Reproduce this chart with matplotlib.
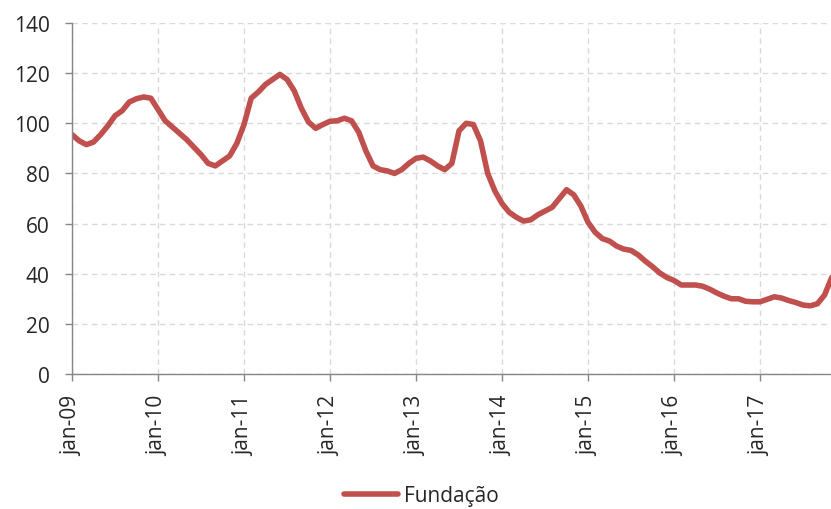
import matplotlib
matplotlib.use("Agg")
import matplotlib.pyplot as plt

# monthly index, jan-09 .. nov-17
fundacao = [
    95.5, 93.0, 91.5, 92.5, 95.5, 99.0, 103.0, 105.0, 108.5, 109.8, 110.5, 110.0,  # 2009
    105.5, 101.0, 98.5, 96.0, 93.5, 90.5, 87.5, 84.0, 83.0, 85.0, 87.0, 92.0,      # 2010
    99.5, 110.0, 112.5, 115.5, 117.5, 119.5, 117.5, 113.0, 106.0, 100.5, 98.0, 99.5,  # 2011
    100.8, 101.0, 102.0, 101.0, 96.5, 89.0, 83.0, 81.5, 81.0, 80.0, 81.5, 84.0,    # 2012
    86.0, 86.5, 85.0, 83.0, 81.5, 84.0, 97.0, 100.0, 99.5, 93.0, 80.0, 73.0,       # 2013
    68.0, 64.5, 62.5, 61.0, 61.5, 63.5, 65.0, 66.5, 70.0, 73.5, 71.5, 67.0,        # 2014
    60.5, 56.5, 54.0, 53.0, 51.0, 49.8, 49.3, 47.5, 45.0, 42.8, 40.3, 38.5,        # 2015
    37.3, 35.5, 35.5, 35.5, 35.0, 33.8, 32.3, 31.0, 30.0, 30.0, 29.0, 28.8,        # 2016
    28.8, 29.8, 30.8, 30.3, 29.3, 28.5, 27.5, 27.2, 28.0, 31.5, 38.5,              # 2017
]
tick_labels = ["jan-09", "jan-10", "jan-11", "jan-12", "jan-13",
               "jan-14", "jan-15", "jan-16", "jan-17"]
series_name = "Fundação"

plt.rcParams['font.family'] = ['Open Sans', 'DejaVu Sans']

fig = plt.figure(figsize=(8.31, 5.10), dpi=100)
ax = fig.add_axes([72 / 831, (510 - 375) / 510, 1 - 72 / 831, (375 - 24) / 510])

x = list(range(len(fundacao)))
ax.plot(x, fundacao, color='#C0504D', linewidth=4.0, solid_capstyle='round',
        label=series_name)

ax.set_xlim(0, 105.9)
ax.set_ylim(0, 140)
ax.set_yticks(range(0, 141, 20))
ax.set_xticks([12 * i for i in range(len(tick_labels))])
ax.set_xticklabels(tick_labels, rotation=90)

ax.grid(True, color='#D9D9D9', linestyle=(0, (4, 3)), linewidth=1)
ax.set_axisbelow(True)

for s in ['top', 'right']:
    ax.spines[s].set_visible(False)
for s in ['left', 'bottom']:
    ax.spines[s].set_color('#868686')
    ax.spines[s].set_linewidth(1)

ax.tick_params(axis='both', colors='#868686', length=5, width=1,
               labelcolor='#262626', labelsize=15)
ax.tick_params(axis='y', pad=11)
ax.tick_params(axis='x', pad=10)

fig.legend(loc='center', bbox_to_anchor=(0.507, 0.026), frameon=False,
           fontsize=15, handlelength=2.6, handletextpad=0.25,
           labelcolor='#262626')

fig.savefig("out.png", dpi=100)
